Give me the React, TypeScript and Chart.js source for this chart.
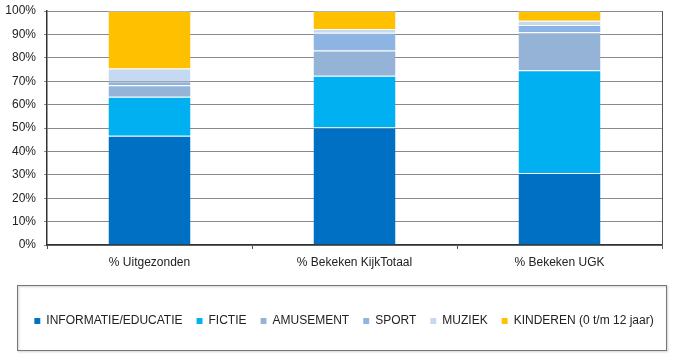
import React, { useEffect, useRef } from 'react';
import { Chart, registerables } from 'chart.js';

Chart.register(...registerables);

const categories = ['% Uitgezonden', '% Bekeken KijkTotaal', '% Bekeken UGK'];
const seriesNames = ['INFORMATIE/EDUCATIE', 'FICTIE', 'AMUSEMENT', 'SPORT', 'MUZIEK', 'KINDEREN (0 t/m 12 jaar)'];
const informatie = [46.7, 50.2, 30.8];
const fictie = [16.7, 22.1, 43.9];
const amusement = [4.9, 10.8, 16.2];
const sport = [1.7, 7.6, 3.1];
const muziek = [5.4, 1.6, 1.8];
const kinderen = [24.6, 7.7, 4.2];
const yTickValues = [0, 10, 20, 30, 40, 50, 60, 70, 80, 90, 100];

const seriesColors = ['#0070C4', '#00B0F0', '#95B3D7', '#8DB4E2', '#C5D9F1', '#FFC000'];

const frame = {
  id: 'frame',
  afterLayout(chart: any) {
    const lg = chart.legend;
    if (lg) {
      const shift = 344 - (lg.left + lg.right) / 2;
      lg.left += shift;
      lg.right += shift;
    }
  },
  afterDraw(chart: any) {
    const { ctx, chartArea, legend } = chart;
    ctx.save();
    ctx.strokeStyle = '#555';
    ctx.lineWidth = 1;
    ctx.beginPath();
    ctx.moveTo(Math.round(chartArea.right) + 0.5, chartArea.top);
    ctx.lineTo(Math.round(chartArea.right) + 0.5, chartArea.bottom);
    ctx.stroke();
    if (legend) {
      ctx.shadowColor = 'rgba(0,0,0,0.25)';
      ctx.shadowBlur = 2;
      ctx.shadowOffsetX = 1;
      ctx.shadowOffsetY = 1;
      ctx.strokeStyle = '#777';
      ctx.strokeRect(17.5, Math.round(legend.top - 16) + 0.5, 649, 65);
    }
    ctx.restore();
  },
};

export default function App() {
  const ref = useRef<HTMLCanvasElement | null>(null);
  useEffect(() => {
    if (!ref.current) return;
    Chart.defaults.font.family = '"Liberation Sans", Arial, sans-serif';
    const values = [informatie, fictie, amusement, sport, muziek, kinderen];
    const chart = new Chart(ref.current, {
      type: 'bar',
      data: {
        labels: categories,
        datasets: values.map((v, i) => ({
          label: seriesNames[i],
          data: v,
          backgroundColor: seriesColors[i],
          borderColor: 'rgba(255,255,255,0.35)',
          borderWidth: { top: 1, bottom: 0, left: 0, right: 0 },
          categoryPercentage: 1,
          barPercentage: 0.4,
        })),
      },
      options: {
        animation: false,
        responsive: true,
        maintainAspectRatio: false,
        layout: { padding: { left: 0, right: 12, top: 11, bottom: 19 } },
        plugins: {
          tooltip: { enabled: false },
          legend: {
            position: 'bottom',
            labels: {
              boxWidth: 6,
              boxHeight: 6,
              padding: 14,
              color: '#222',
              font: { size: 12 },
            },
          },
        },
        scales: {
          x: {
            stacked: true,
            grid: { display: true, offset: true, drawOnChartArea: false, tickLength: 4, color: '#555' },
            border: { color: '#333', width: 1.5 },
            ticks: { color: '#222', font: { size: 12 }, padding: 6 },
            afterFit: (s: any) => { s.height = 56; },
          },
          y: {
            stacked: true,
            min: 0,
            max: 100,
            afterBuildTicks: (s: any) => { s.ticks = yTickValues.map((v) => ({ value: v })); },
            afterFit: (s: any) => {
              s.width = 47;
              s.paddingTop = 4;
              s.paddingBottom = 4;
            },
            grid: { color: '#8a8a8a', tickLength: 3, lineWidth: 1 },
            border: { color: '#333', width: 1.5 },
            ticks: {
              color: '#222',
              font: { size: 12 },
              padding: 8,
              callback: (v: any) => v + '%',
            },
          },
        },
      },
      plugins: [frame],
    });
    return () => chart.destroy();
  }, []);
  return (
    <div style={{ position: 'absolute', left: 0, top: 0, width: 674, height: 356, background: '#fff' }}>
      <canvas ref={ref} />
    </div>
  );
}
